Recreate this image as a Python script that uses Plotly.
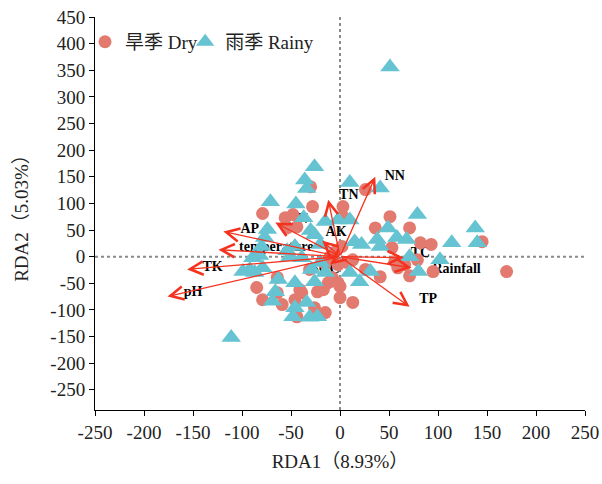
import plotly.graph_objects as go

# ---- data ----
dry_x = [-79, -56, -48, -54, -30, -28, 3, 3, 26, 36, 51, 71, 82, 93, -44, 2, -5, -10, -15, -2,
         7, 26, 41, -12, -2, -39, -17, 0, 13, -26, -15, -46, -64, -85, -79, -59, -41, -31, 56, 66,
         79, 95, 71, 59, 170, 145, 53, 13, 0, -44, -8, -64, -23]
dry_y = [81, 73, 79, 54, 131, 94, 94, 75, 126, 54, 75, 54, 26, 23, 56, 19, 9, 0, -13, -15,
         -11, -24, -38, -49, -49, -68, -62, -77, -86, -96, -105, -81, -39, -58, -81, -90, -62, -24, -9, -15,
         -6, -28, -36, -21, -28, 28, 17, -6, -56, -113, -39, -68, -66]

rainy_x = [51, -111, -26, -36, -34, 10, 41, -71, -45, -37, -15, -2, 10, -74, -77, -30, -26, -20, -80, -46,
           -54, -89, -82, -51, -39, -87, -92, -79, -20, -29, -15, -63, -66, -46, -26, 10, 20, 31, -34, -46,
           -69, -48, -31, -23, 15, 22, 38, 41, 49, 58, 68, 79, 71, 102, 80, 114, 138, 140, -99]
rainy_y = [356, -152, 169, 144, 128, 139, 129, 103, 99, 73, 66, 69, 69, 51, 36, 49, 41, 23, 19, 19,
           11, -2, 2, 0, -2, -30, -24, -21, -11, -24, -30, -43, -66, -49, -47, -30, -47, -28, -86, -96,
           -84, -113, -114, -113, 28, 23, 32, 19, 54, 36, 32, 79, 0, -6, -28, 26, 54, 26, -28]

env_names = ["NN", "TN", "AN", "AK", "AP", "temperature", "TK", "pH", "SOC", "TC", "Rainfall", "TP"]
env_x = [36, -12, -66, -18, -119, -124, -156, -176, -10, 65, 73, 71]
env_y = [150, 107, 64, 30, 47, 13, -24, -75, -15, -2, -21, -94]

x_ticks = [-250, -200, -150, -100, -50, 0, 50, 100, 150, 200, 250]
y_ticks = [-250, -200, -150, -100, -50, 0, 50, 100, 150, 200, 250, 300, 350, 400, 450]

# ---- styling ----
label_offset = [(20, 0), (21, 7), (23, 5), (14, 15), (27, 4), (59, 4), (26, 3), (26, 7),
                (-5, -9), (17, 8), (46, -3), (19, 13)]
SERIF = "Liberation Serif, Times New Roman, Noto Sans CJK SC, serif"
RED = "#F5321E"
DRY_C = "#E27A70"
RAINY_C = "#66C3D1"
TXT = "#222222"

fig = go.Figure()

# arrow labels (drawn beneath markers as in the reference)
fig.add_trace(go.Scatter(
    x=[ex + o[0] for ex, o in zip(env_x, label_offset)],
    y=[ey + o[1] for ey, o in zip(env_y, label_offset)],
    mode="text", text=["<b>%s</b>" % n for n in env_names],
    textfont=dict(family=SERIF, size=14, color="black"),
    textposition="middle center", showlegend=False, hoverinfo="skip"))

fig.add_trace(go.Scatter(
    x=dry_x, y=dry_y, mode="markers", name="旱季 Dry", legend="legend",
    marker=dict(symbol="circle", size=13, color=DRY_C, line=dict(width=0))))
fig.add_trace(go.Scatter(
    x=rainy_x, y=rainy_y, mode="markers", name="雨季 Rainy", legend="legend2",
    marker=dict(symbol="triangle-up", size=17, color=RAINY_C, line=dict(width=0))))

# zero reference lines
fig.add_shape(type="line", x0=0, x1=0, y0=0, y1=1, xref="x", yref="paper",
              line=dict(color="#8a8a8a", width=2, dash="dot"), layer="below")
fig.add_shape(type="line", x0=0, x1=1, y0=0, y1=0, xref="paper", yref="y",
              line=dict(color="#8a8a8a", width=2, dash="dot"), layer="below")

# environmental vectors
for ex, ey in zip(env_x, env_y):
    fig.add_annotation(x=ex, y=ey, ax=0, ay=0, xref="x", yref="y", axref="x", ayref="y",
                       text="", showarrow=True, arrowhead=5, arrowsize=2.0, arrowwidth=1.3,
                       arrowcolor=RED, standoff=0, startstandoff=0)

legend_style = dict(orientation="h", yanchor="top", xanchor="left",
                    font=dict(family=SERIF, size=19, color=TXT),
                    bgcolor="rgba(0,0,0,0)", itemwidth=30)

fig.update_layout(
    width=602, height=484,
    margin=dict(l=95, r=17, t=17, b=74, autoexpand=False),
    paper_bgcolor="white", plot_bgcolor="white",
    font=dict(family=SERIF, size=19, color=TXT),
    legend=dict(x=-0.0204, y=0.985, **legend_style),
    legend2=dict(x=0.184, y=0.985, **legend_style),
    xaxis=dict(range=[-250, 250], tickvals=x_ticks, ticktext=[str(v) for v in x_ticks],
               showgrid=False, zeroline=False, showline=True, linecolor="black", linewidth=1,
               ticks="outside", ticklen=5, tickcolor="black", automargin=False,
               tickfont=dict(family=SERIF, size=19, color=TXT),
               title=dict(text="RDA1（8.93%）", font=dict(family=SERIF, size=19, color=TXT), standoff=12)),
    yaxis=dict(range=[-288, 450], tickvals=y_ticks, ticktext=[str(v) for v in y_ticks],
               showgrid=False, zeroline=False, showline=True, linecolor="black", linewidth=1,
               ticks="outside", ticklen=5, tickcolor="black", automargin=False,
               tickfont=dict(family=SERIF, size=19, color=TXT),
               title=dict(text="RDA2（5.03%）", font=dict(family=SERIF, size=19, color=TXT), standoff=16)),
)

fig.write_html("out.html")
